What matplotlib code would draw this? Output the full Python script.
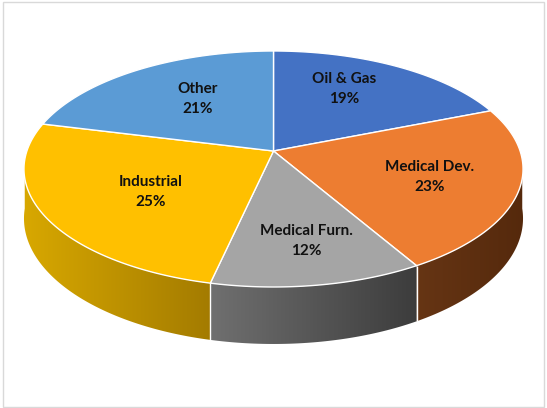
import numpy as np
import matplotlib
matplotlib.use("Agg")
import matplotlib.pyplot as plt
from matplotlib.patches import Polygon, Rectangle
from matplotlib.colors import to_rgb

# ---- data ----
categories = ["Oil & Gas", "Medical Dev.", "Medical Furn.", "Industrial", "Other"]
values = [19.0, 22.6, 11.9, 25.4, 21.1]
top_colors = ["#4472C4", "#ED7D31", "#A5A5A5", "#FFC000", "#5B9BD5"]
side_light = ["#2F5597", "#663514", "#707070", "#D8A800", "#3E77AE"]
side_dark = ["#22407A", "#55290C", "#3C3C3C", "#A37B00", "#2F5F8F"]
label_radius = [0.66, 0.65, 0.71, 0.58, 0.59]
label_angle_frac = [0.41, 0.51, 0.48, 0.46, 0.55]

# ---- layout ----
W, H = 547, 408
fig = plt.figure(figsize=(5.47, 4.08), dpi=100)
ax = fig.add_axes([0, 0, 1, 1])
ax.set_xlim(0, W)
ax.set_ylim(H, 0)
ax.axis("off")

CX, CY = 273.5, 151.0
A, B, K = 246.6, 115.25, 0.1525
DEPTH = 48.3


def proj(theta, r=1.0, drop=0.0):
    u = r * np.sin(theta)
    v = -r * np.cos(theta)
    w = 1 - K * v
    return CX + A * u / w, CY + B * v / w + drop / w


vals = np.array(values, dtype=float)
frac = vals / vals.sum()
bounds = np.concatenate([[0], np.cumsum(frac)]) * 2 * np.pi

# ---- side walls (front, visible part) with horizontal gradients ----
for i in range(len(vals)):
    t0, t1 = bounds[i], bounds[i + 1]
    ts = np.linspace(t0, t1, 400)
    ts = ts[(-np.cos(ts)) > K - 0.08]
    if len(ts) < 2:
        continue
    xt, yt = proj(ts)
    xb, yb = proj(ts, drop=DEPTH)
    pts = np.column_stack([np.concatenate([xt, xb[::-1]]), np.concatenate([yt, yb[::-1]])])
    poly = Polygon(pts, closed=True, facecolor="none", edgecolor="none")
    ax.add_patch(poly)
    xmin, xmax = pts[:, 0].min(), pts[:, 0].max()
    ymin, ymax = pts[:, 1].min(), pts[:, 1].max()
    g = np.linspace(0, 1, 256)[None, :, None]
    c0 = np.array(to_rgb(side_light[i]))[None, None, :]
    c1 = np.array(to_rgb(side_dark[i]))[None, None, :]
    img = (1 - g) * c0 + g * c1
    im = ax.imshow(img, extent=[xmin - 1, xmax + 1, ymax + 1, ymin - 1], aspect="auto",
                   interpolation="bilinear", zorder=1)
    im.set_clip_path(poly)

# boundary lines on the side
for b in bounds:
    if -np.cos(b) > K:
        x1, y1 = proj(b)
        x2, y2 = proj(b, drop=DEPTH)
        ax.plot([x1, x2], [y1, y2], color="white", lw=1.0, solid_capstyle="butt", zorder=2)

# ---- top faces ----
for i in range(len(vals)):
    ts = np.linspace(bounds[i], bounds[i + 1], 200)
    xs, ys = proj(ts)
    pts = np.column_stack([np.concatenate([[CX], xs]), np.concatenate([[CY], ys])])
    ax.add_patch(Polygon(pts, closed=True, facecolor=top_colors[i],
                         edgecolor="white", lw=1.0, joinstyle="round", zorder=3))

# ---- labels ----
for i in range(len(vals)):
    ang = bounds[i] + label_angle_frac[i] * (bounds[i + 1] - bounds[i])
    lx, ly = proj(ang, r=label_radius[i])
    ax.text(lx, ly, f"{categories[i]}\n{round(vals[i]):d}%", ha="center", va="center",
            fontsize=11, fontweight="bold", family=["Lato", "DejaVu Sans"],
            color="#111111", linespacing=1.55, zorder=4)

# ---- frame ----
ax.add_patch(Rectangle((2.5, 1.5), 541, 405, fill=False, edgecolor="#D9D9D9", lw=1.0, zorder=5))

fig.savefig("out.png", dpi=100)
